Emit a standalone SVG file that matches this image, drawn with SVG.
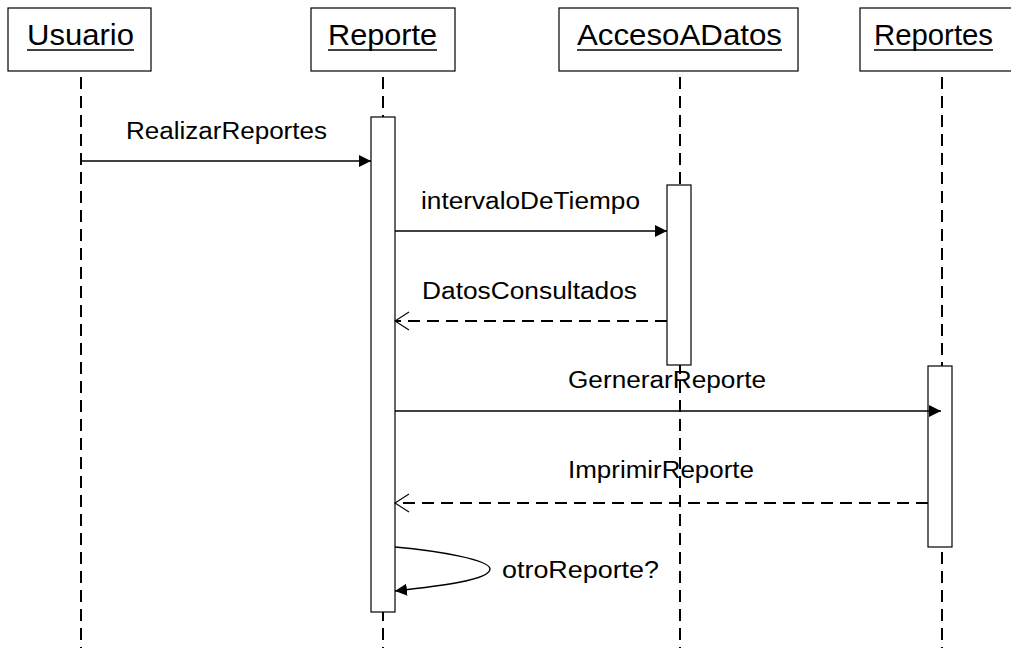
<svg xmlns="http://www.w3.org/2000/svg" width="1011" height="648" viewBox="0 0 1011 648">
  <style>
    .box { fill: #fff; stroke: #000; stroke-width: 1.2; }
    .life { stroke: #000; stroke-width: 2; stroke-dasharray: 12 7; fill: none; }
    .act { fill: #fff; stroke: #000; stroke-width: 1.2; }
    .msg { stroke: #000; stroke-width: 1.4; fill: none; }
    .ret { stroke: #000; stroke-width: 2; fill: none; stroke-dasharray: 12 7; }
    .ul { stroke: #000; stroke-width: 1.6; }
    .hdr { font-family: "Liberation Sans", Arial, sans-serif; font-size: 29px; fill: #000; }
    .lbl { font-family: "Liberation Sans", Arial, sans-serif; font-size: 23.5px; fill: #000; }
  </style>
  <defs>
    <marker id="filled" viewBox="0 0 12 12" refX="12" refY="6" markerWidth="12" markerHeight="12" markerUnits="userSpaceOnUse" orient="auto">
      <path d="M0,0 L12,6 L0,12 Z" fill="#000"/>
    </marker>
    <marker id="open" viewBox="0 0 16 20" refX="15" refY="10" markerWidth="16" markerHeight="20" markerUnits="userSpaceOnUse" orient="auto">
      <path d="M1,1 L15,10 L1,19" fill="none" stroke="#000" stroke-width="1.1"/>
    </marker>
  </defs>

  <!-- lifelines -->
  <g id="lifelines">
    <line class="life" x1="81" y1="77" x2="81" y2="648"/>
    <line class="life" x1="383" y1="77" x2="383" y2="648"/>
    <line class="life" x1="680" y1="77" x2="680" y2="648"/>
    <line class="life" x1="942" y1="77" x2="942" y2="648"/>
  </g>

  <g id="usuario">
    <rect class="box" x="8" y="8" width="143" height="63"/>
    <text class="hdr" x="27" y="45" textLength="107" lengthAdjust="spacingAndGlyphs">Usuario</text>
    <line class="ul" x1="27" y1="50" x2="134" y2="50"/>
  </g>

  <g id="reporte">
    <rect class="box" x="311" y="8" width="144" height="63"/>
    <text class="hdr" x="328" y="45" textLength="109" lengthAdjust="spacingAndGlyphs">Reporte</text>
    <line class="ul" x1="328" y1="50" x2="437" y2="50"/>
    <rect class="act" x="371" y="117" width="24" height="495"/>
  </g>

  <g id="accesoADatos">
    <rect class="box" x="559" y="8" width="239" height="63"/>
    <text class="hdr" x="577" y="45" textLength="205" lengthAdjust="spacingAndGlyphs">AccesoADatos</text>
    <line class="ul" x1="577" y1="50" x2="782" y2="50"/>
    <rect class="act" x="667" y="185" width="24" height="180"/>
  </g>

  <g id="reportes">
    <rect class="box" x="860" y="8" width="164" height="63"/>
    <text class="hdr" x="874" y="45" textLength="119" lengthAdjust="spacingAndGlyphs">Reportes</text>
    <line class="ul" x1="874" y1="50" x2="993" y2="50"/>
    <rect class="act" x="928" y="366" width="24" height="181"/>
  </g>

  <!-- messages -->
  <g id="connectors">
    <line class="msg" x1="81" y1="161" x2="371" y2="161" marker-end="url(#filled)"/>
    <line class="msg" x1="395" y1="231" x2="667" y2="231" marker-end="url(#filled)"/>
    <line class="ret" x1="667" y1="321" x2="395" y2="321" marker-end="url(#open)"/>
    <line class="msg" x1="395" y1="411" x2="941" y2="411" marker-end="url(#filled)"/>
    <line class="ret" x1="928" y1="503" x2="395" y2="503" marker-end="url(#open)"/>
    <path class="msg" d="M395,547 C440,551 490,560 490,569 C490,580 440,586 395,591" marker-end="url(#filled)"/>
  </g>

  <g id="labels">
    <text class="lbl" x="126" y="139" textLength="201" lengthAdjust="spacingAndGlyphs">RealizarReportes</text>
    <text class="lbl" x="421" y="209" textLength="219" lengthAdjust="spacingAndGlyphs">intervaloDeTiempo</text>
    <text class="lbl" x="422" y="299" textLength="215" lengthAdjust="spacingAndGlyphs">DatosConsultados</text>
    <text class="lbl" x="568" y="388" textLength="198" lengthAdjust="spacingAndGlyphs">GernerarReporte</text>
    <text class="lbl" x="568" y="478" textLength="186" lengthAdjust="spacingAndGlyphs">ImprimirReporte</text>
    <text class="lbl" x="502" y="578" textLength="157" lengthAdjust="spacingAndGlyphs">otroReporte?</text>
  </g>
</svg>
